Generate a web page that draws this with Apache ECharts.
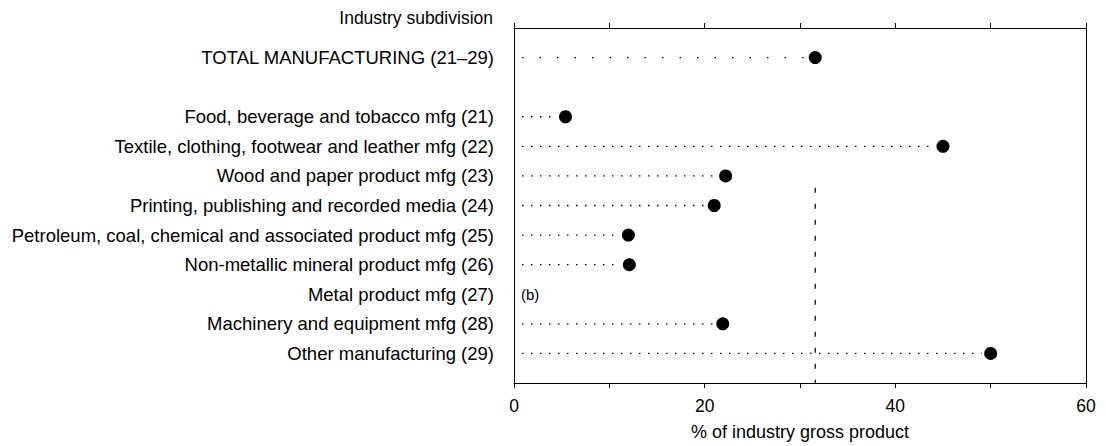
<!DOCTYPE html>
<html>
<head>
<meta charset="utf-8">
<script src="https://cdn.jsdelivr.net/npm/echarts@6/dist/echarts.min.js"></script>
<style>html,body{margin:0;padding:0;background:#fff}#c{width:1106px;height:446px}</style>
</head>
<body>
<div id="c"></div>
<script>
// Row labels, in top-to-bottom order (empty string = spacer row)
const categories = [
  'TOTAL MANUFACTURING (21\u201329)',
  '',
  'Food, beverage and tobacco mfg (21)',
  'Textile, clothing, footwear and leather mfg (22)',
  'Wood and paper product mfg (23)',
  'Printing, publishing and recorded media (24)',
  'Petroleum, coal, chemical and associated product mfg (25)',
  'Non-metallic mineral product mfg (26)',
  'Metal product mfg (27)',
  'Machinery and equipment mfg (28)',
  'Other manufacturing (29)'
];
// % of industry gross product (null = not available, marked (b))
const values = [31.6, null, 5.4, 45.0, 22.2, 21.0, 12.0, 12.1, null, 21.9, 50.0];
const xTicks = [0, 20, 40, 60];
const notes = [{ row: 8, text: '(b)' }];
const totalValue = 31.6;

const FONT = '"Liberation Sans", Arial, Helvetica, sans-serif';
const dots = [], leaders = [];
values.forEach((v, i) => { if (v !== null) { dots.push([v, i]); leaders.push([v, i]); } });

const chart = echarts.init(document.getElementById('c'), null, { renderer: 'svg' });
chart.setOption({
  animation: false,
  backgroundColor: '#fff',
  grid: { left: 514, right: 20, top: 28, bottom: 63, show: false, containLabel: false },
  graphic: [{
    type: 'text', right: 613, top: 9,
    style: { text: 'Industry subdivision', font: '17.5px ' + FONT, fill: '#000', textAlign: 'right' }
  }],
  xAxis: [{
    type: 'value', min: 0, max: 60, interval: 10, position: 'bottom',
    axisLine: { show: true, onZero: false, lineStyle: { color: '#000', width: 1 } },
    axisTick: { show: true, length: 5, lineStyle: { color: '#000' } },
    axisLabel: { color: '#000', fontFamily: FONT, fontSize: 17.5, margin: 14,
      formatter: v => xTicks.indexOf(v) >= 0 ? String(v) : '' },
    splitLine: { show: false },
    name: '% of industry gross product', nameLocation: 'middle', nameGap: 40,
    nameTextStyle: { color: '#000', fontFamily: FONT, fontSize: 18 }
  }, {
    type: 'value', min: 0, max: 60, interval: 10, position: 'top',
    axisLine: { show: true, onZero: false, lineStyle: { color: '#000', width: 1 } },
    axisTick: { show: true, length: 5, lineStyle: { color: '#000' } },
    axisLabel: { show: false }, splitLine: { show: false }
  }],
  yAxis: [{
    type: 'value', inverse: true, min: -1, max: 11, interval: 1, position: 'left',
    axisLine: { show: true, onZero: false, lineStyle: { color: '#000' } },
    axisTick: { show: false },
    splitLine: { show: false },
    axisLabel: { color: '#000', fontFamily: FONT, fontSize: 18.5, margin: 20,
      formatter: v => (v >= 0 && v < categories.length) ? categories[v] : '' }
  }, {
    type: 'value', inverse: true, min: -1, max: 11, interval: 1, position: 'right',
    axisLine: { show: true, onZero: false, lineStyle: { color: '#000' } },
    axisTick: { show: false }, axisLabel: { show: false }, splitLine: { show: false }
  }],
  series: [{
    type: 'custom',
    data: leaders,
    renderItem: (params, api) => {
      const v = api.value(0), y = api.value(1);
      const p0 = api.coord([0, y]), p1 = api.coord([v, y]);
      const total = y === 0;
      return {
        type: 'line', silent: true,
        shape: { x1: p0[0] + 8, y1: p0[1], x2: p1[0] - 9, y2: p1[1] },
        style: { stroke: '#000', lineWidth: 1.4, lineDash: total ? [1.5, 16] : [1.5, 7.5] }
      };
    }
  }, {
    type: 'line',
    data: [[totalValue, 4.4], [totalValue, 11]],
    symbol: 'none',
    lineStyle: { color: '#000', width: 1.2, type: [5, 11] },
    silent: true
  }, {
    type: 'scatter',
    data: dots,
    symbol: 'circle', symbolSize: 13,
    itemStyle: { color: '#000', opacity: 1 },
    z: 5
  }, {
    type: 'custom',
    data: notes.map(n => [0, n.row]),
    renderItem: (params, api) => {
      const p = api.coord([api.value(0), api.value(1)]);
      return {
        type: 'text', silent: true,
        x: p[0] + 7, y: p[1],
        style: { text: notes[params.dataIndex].text, font: '15px ' + FONT, fill: '#000',
          textAlign: 'left', textVerticalAlign: 'middle' }
      };
    }
  }]
});
</script>
</body>
</html>
